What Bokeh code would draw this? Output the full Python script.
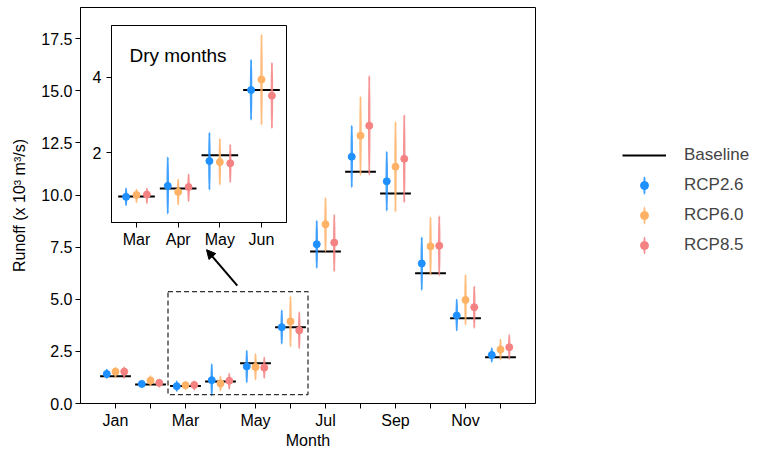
import numpy as np
from bokeh.plotting import figure
from bokeh.models import (Range1d, FixedTicker, PrintfTickFormatter, ColumnDataSource,
                          Legend, LegendItem, BoxAnnotation, Arrow, NormalHead, Label)
from bokeh.embed import file_html
from bokeh.resources import INLINE

# ---------------- data ----------------
months = ["Jan", "Feb", "Mar", "Apr", "May", "Jun", "Jul", "Aug", "Sep", "Oct", "Nov", "Dec"]
baseline = [1.31, 0.91, 0.84, 1.05, 1.93, 3.66, 7.29, 11.12, 10.08, 6.25, 4.09, 2.22]

rcp26 = [1.42, 0.94, 0.83, 1.12, 1.78, 3.66, 7.64, 11.84, 10.66, 6.72, 4.22, 2.33]
rcp26_lo = [1.23, 0.81, 0.61, 0.38, 1.02, 2.87, 6.50, 10.37, 9.25, 5.45, 3.50, 2.01]
rcp26_hi = [1.62, 1.07, 1.05, 1.88, 2.53, 4.46, 8.77, 13.33, 12.08, 7.97, 4.99, 2.65]

rcp60 = [1.53, 1.10, 0.88, 0.96, 1.75, 3.94, 8.60, 12.85, 11.36, 7.54, 4.97, 2.59]
rcp60_lo = [1.26, 0.86, 0.69, 0.63, 1.15, 2.74, 7.29, 10.96, 9.20, 6.17, 3.79, 2.11]
rcp60_hi = [1.71, 1.31, 1.02, 1.29, 2.37, 5.13, 9.86, 14.72, 13.52, 8.93, 6.17, 3.07]

rcp85 = [1.53, 0.99, 0.89, 1.09, 1.72, 3.51, 7.72, 13.33, 11.74, 7.57, 4.62, 2.70]
rcp85_lo = [1.23, 0.81, 0.67, 0.71, 1.22, 2.65, 6.34, 10.96, 9.65, 6.14, 3.63, 2.14]
rcp85_hi = [1.74, 1.14, 1.05, 1.43, 2.21, 4.38, 9.06, 15.72, 13.84, 8.98, 5.61, 3.29]

series_names = ["RCP2.6", "RCP6.0", "RCP8.5"]
y_ticks = [0.0, 2.5, 5.0, 7.5, 10.0, 12.5, 15.0, 17.5]
inset_months = months[2:6]
inset_y_ticks = [2, 4]

# ---------------- styles ----------------
FONT = "Liberation Sans"
colors = ["#1e90ff", "#ffb266", "#f58282"]
offsets = [-0.25, 0.0, 0.25]
half = 0.44

series = [
    (rcp26, rcp26_lo, rcp26_hi),
    (rcp60, rcp60_lo, rcp60_hi),
    (rcp85, rcp85_lo, rcp85_hi),
]


def style_axes(fig, size):
    for ax in fig.xaxis + fig.yaxis:
        ax.axis_line_color = "black"
        ax.major_tick_line_color = "black"
        ax.major_tick_out = 5
        ax.major_tick_in = 0
        ax.minor_tick_line_color = None
        ax.major_label_text_font = FONT
        ax.major_label_text_font_size = size
        ax.major_label_text_color = "black"
        ax.axis_label_text_font = FONT
        ax.axis_label_text_font_size = size
        ax.axis_label_text_font_style = "normal"
        ax.axis_label_text_color = "black"
    fig.xgrid.visible = False
    fig.ygrid.visible = False
    fig.outline_line_color = "black"
    fig.outline_line_width = 1


def sources(idx, xs_base):
    b = np.asarray(baseline)[idx]
    bsrc = ColumnDataSource(dict(x0=xs_base - half, x1=xs_base + half, y=b))
    srcs = []
    for k, (mid, lo, hi) in enumerate(series):
        mid = np.asarray(mid)[idx]
        lo = np.asarray(lo)[idx]
        hi = np.asarray(hi)[idx]
        srcs.append(ColumnDataSource(dict(x=xs_base + offsets[k], y=mid,
                                          ymid=(lo + hi) / 2, h=hi - lo)))
    return bsrc, srcs


def draw(fig, bsrc, srcs):
    base_r = fig.segment(x0="x0", x1="x1", y0="y", y1="y", source=bsrc,
                         line_color="black", line_width=2)
    rs = []
    for k, src in enumerate(srcs):
        eb = fig.ellipse(x="x", y="ymid", width=0.5, height="h",
                         width_units="screen", height_units="data", source=src,
                         fill_alpha=0, line_color=colors[k], line_width=2, line_alpha=0.85)
        dot = fig.scatter(x="x", y="y", size=7, source=src, fill_color=colors[k],
                          line_color=colors[k])
        rs.append((eb, dot))
    return base_r, rs


# ---------------- main figure ----------------
p = figure(width=766, height=450, frame_width=455, frame_height=396,
           min_border_left=80, min_border_right=231, min_border_top=7, min_border_bottom=47,
           x_range=Range1d(-1, 12), y_range=Range1d(0, 19),
           output_backend="svg", toolbar_location=None)
style_axes(p, "16px")
p.xaxis.ticker = FixedTicker(ticks=list(range(len(months))))
p.xaxis.major_label_overrides = {i: (m if i % 2 == 0 else "") for i, m in enumerate(months)}
p.xaxis.axis_label = "Month"
p.xaxis.major_label_standoff = 3
p.xaxis.axis_label_standoff = 0
p.yaxis.ticker = FixedTicker(ticks=y_ticks)
p.yaxis.formatter = PrintfTickFormatter(format="%.1f")
p.yaxis.axis_label = "Runoff (x 10³ m³/s)"
p.yaxis.major_label_standoff = 3
p.yaxis.axis_label_standoff = 10

main_bsrc, main_srcs = sources(slice(0, 12), np.arange(len(months), dtype=float))
draw(p, main_bsrc, main_srcs)

p.add_layout(BoxAnnotation(left=1.5, right=5.5, bottom=0.43, top=5.37,
                           fill_alpha=0, line_color="#333333", line_alpha=1.0,
                           line_dash="5 3", line_width=1.3))
p.add_layout(Arrow(x_start=3.48, y_start=5.66, x_end=2.6, y_end=7.38, line_width=2,
                   line_color="black",
                   end=NormalHead(size=9, fill_color="black", line_color="black")))

# ---------------- inset ----------------
ins = figure(frame_width=175, frame_height=197,
             min_border_left=30, min_border_right=4, min_border_top=5, min_border_bottom=30,
             x_range=Range1d(-0.6, 3.6), y_range=Range1d(0.15, 5.37),
             output_backend="svg", toolbar_location=None,
             styles={"position": "absolute", "left": "81px", "top": "20px"})
ins.border_fill_color = None
ins.background_fill_color = "white"
style_axes(ins, "16px")
ins.xaxis.ticker = FixedTicker(ticks=list(range(len(inset_months))))
ins.xaxis.major_label_overrides = {i: m for i, m in enumerate(inset_months)}
ins.xaxis.major_label_standoff = 3
ins.yaxis.ticker = FixedTicker(ticks=inset_y_ticks)
ins.yaxis.major_label_standoff = 5
ins_bsrc, ins_srcs = sources(slice(2, 6), np.arange(len(inset_months), dtype=float))
draw(ins, ins_bsrc, ins_srcs)
ins.add_layout(Label(x=-0.17, y=4.57, text="Dry months", text_font=FONT,
                     text_font_size="19px", text_baseline="alphabetic", text_color="black"))

# ---------------- legend (own panel to the right of the main frame) ----------------
leg = figure(frame_width=166, frame_height=130, min_border=0,
             x_axis_type=None, y_axis_type=None,
             x_range=Range1d(1000, 1001), y_range=Range1d(1000, 1001),
             output_backend="svg", toolbar_location=None,
             styles={"position": "absolute", "left": "600px", "top": "130px"})
leg.xgrid.visible = False
leg.ygrid.visible = False
leg.outline_line_color = None
leg.background_fill_color = None
leg.border_fill_color = None
lbase, lrs = draw(leg, main_bsrc, main_srcs)
items = [LegendItem(label="Baseline", renderers=[lbase])]
for name, (eb, dot) in zip(series_names, lrs):
    items.append(LegendItem(label=name, renderers=[eb, dot]))
legend = Legend(items=items, location=(22, 5), padding=0, margin=0, spacing=10,
                glyph_width=44, glyph_height=20, label_height=20, label_standoff=18,
                label_text_font=FONT, label_text_font_size="17px",
                border_line_color=None, background_fill_alpha=0)
leg.add_layout(legend)

open("out.html", "w").write(file_html([p, ins, leg], INLINE))
